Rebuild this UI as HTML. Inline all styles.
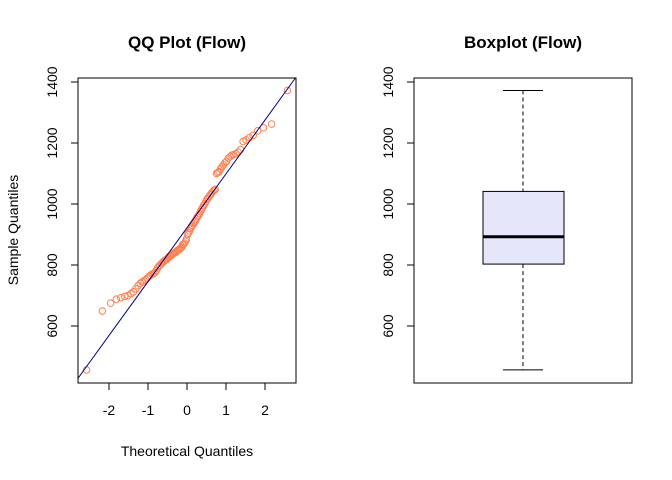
<!DOCTYPE html>
<html><head><meta charset="utf-8"><style>
body{margin:0;background:#fff}
svg{display:block;font-family:"Liberation Sans",Arial,sans-serif}
</style></head><body>
<svg id="c" width="672" height="480" xmlns="http://www.w3.org/2000/svg">
<rect width="672" height="480" fill="#fff"/>
</svg>
<script>
const flowValues=[456,649,675,688,693,697,700,706,712,722,732,740,744,748,752,757,762,766,770,772,775,782,790,796,800,
804,808,812,815,818,820,824,828,830,832,835,838,840,842,845,848,850,852,855,858,866,868,872,878,885,
900,905,912,920,925,930,935,940,945,952,958,962,968,975,982,988,995,1000,1008,1015,1020,1025,1030,1035,1040,
1045,1048,1100,1103,1106,1115,1122,1128,1135,1140,1150,1155,1160,1162,1165,1170,1178,1205,1210,1218,1225,1240,1250,1262,1372];
const yTicks=[600,800,1000,1200,1400];
const xTicks=[-2,-1,0,1,2];

const svg=document.getElementById('c');
const NS='http://www.w3.org/2000/svg';
function mk(t,a,p){const e=document.createElementNS(NS,t);for(const k in a)e.setAttribute(k,a[k]);(p||svg).appendChild(e);return e;}
const yS=v=>204-(v-1000)*61/200;
const xS=q=>187+q*39;
function qnorm(p){const a=[-39.6968302866538,220.946098424521,-275.928510446969,138.357751867269,-30.6647980661472,2.50662827745924],
b=[-54.4760987982241,161.585836858041,-155.698979859887,66.8013118877197,-13.2806815528857],
c=[-0.00778489400243029,-0.322396458041136,-2.40075827716184,-2.54973253934373,4.37466414146497,2.93816398269878],
d=[0.00778469570904146,0.32246712907004,2.445134137143,3.75440866190742];
let q,r;if(p<0.02425){q=Math.sqrt(-2*Math.log(p));return(((((c[0]*q+c[1])*q+c[2])*q+c[3])*q+c[4])*q+c[5])/((((d[0]*q+d[1])*q+d[2])*q+d[3])*q+1);}
if(p>1-0.02425){q=Math.sqrt(-2*Math.log(1-p));return-(((((c[0]*q+c[1])*q+c[2])*q+c[3])*q+c[4])*q+c[5])/((((d[0]*q+d[1])*q+d[2])*q+d[3])*q+1);}
q=p-0.5;r=q*q;return(((((a[0]*r+a[1])*r+a[2])*r+a[3])*r+a[4])*r+a[5])*q/(((((b[0]*r+b[1])*r+b[2])*r+b[3])*r+b[4])*r+1);}
const sorted=flowValues.slice().sort((a,b)=>a-b);
const n=sorted.length;
function quant(p){const h=(n-1)*p,lo=Math.floor(h);return sorted[lo]+(h-lo)*((sorted[Math.min(lo+1,n-1)])-sorted[lo]);}
const Q1=quant(0.25),Q2=quant(0.5),Q3=quant(0.75);

function txt(x,y,s,a,name){const t=mk('text',Object.assign({x:x,y:y,'font-size':14,fill:'#000','text-anchor':'middle'},a||{}));t.textContent=s;

return t;}

// ---- QQ panel
txt(187,48,'QQ Plot (Flow)',{'font-size':17,'font-weight':'bold'},'qq-title');
const cl=mk('clipPath',{id:'qc'});mk('rect',{x:78,y:78,width:218,height:305},cl);
const pts=mk('g',{'clip-path':'url(#qc)'});


const p=(n<=10)?3/8:0.5;
sorted.forEach((v,i)=>{const q=qnorm((i+1-p)/(n+1-2*p));
const c=mk('circle',{cx:xS(q),cy:yS(v),r:3.3,fill:'none',stroke:'#FF7F50','stroke-width':1},pts);

});
const slope=(Q3-Q1)/(qnorm(0.75)-qnorm(0.25)),inter=Q1-slope*qnorm(0.25);
const ln=mk('line',{x1:xS(-3),y1:yS(inter-3*slope),x2:xS(3),y2:yS(inter+3*slope),stroke:'#000080','stroke-width':1,'clip-path':'url(#qc)'});


const f1=mk('rect',{x:78,y:78,width:218,height:305,fill:'none',stroke:'#000','stroke-width':1});


xTicks.forEach(t=>{mk('line',{x1:xS(t),y1:383,x2:xS(t),y2:390,stroke:'#000'});txt(xS(t),415,String(t),{},'x-tick-label');});
mk('line',{x1:xS(-2),y1:383,x2:xS(2),y2:383,stroke:'#000'});
function yAxis(x0,name){yTicks.forEach(t=>{mk('line',{x1:x0,y1:yS(t),x2:x0-7,y2:yS(t),stroke:'#000'});
txt(0,0,String(t),{transform:`translate(${x0-21},${yS(t)}) rotate(-90)`},name);});
mk('line',{x1:x0,y1:yS(600),x2:x0,y2:yS(1400),stroke:'#000'});}
yAxis(78,'qq-y-tick-label');
txt(187,456,'Theoretical Quantiles',{},'x-axis-title');
txt(0,0,'Sample Quantiles',{transform:'translate(18,230) rotate(-90)'},'y-axis-title');

// ---- Boxplot panel
txt(523,48,'Boxplot (Flow)',{'font-size':17,'font-weight':'bold'},'box-title');
const f2=mk('rect',{x:414,y:78,width:218,height:305,fill:'none',stroke:'#000'});


yAxis(414,'box-y-tick-label');
const iqr=Q3-Q1;
const lw=sorted.find(v=>v>=Q1-1.5*iqr),uw=[...sorted].reverse().find(v=>v<=Q3+1.5*iqr);
const g=mk('g',{});


mk('line',{x1:523,y1:yS(uw),x2:523,y2:yS(Q3),stroke:'#000','stroke-dasharray':'4,3'},g);
mk('line',{x1:523,y1:yS(Q1),x2:523,y2:yS(lw),stroke:'#000','stroke-dasharray':'4,3'},g);
mk('line',{x1:503,y1:yS(uw),x2:543,y2:yS(uw),stroke:'#000'},g);
mk('line',{x1:503,y1:yS(lw),x2:543,y2:yS(lw),stroke:'#000'},g);
mk('rect',{x:483,y:yS(Q3),width:81,height:yS(Q1)-yS(Q3),fill:'#E6E6FA',stroke:'#000'},g);
mk('line',{x1:483,y1:yS(Q2),x2:564,y2:yS(Q2),stroke:'#000','stroke-width':3},g);
</script>
</body></html>
